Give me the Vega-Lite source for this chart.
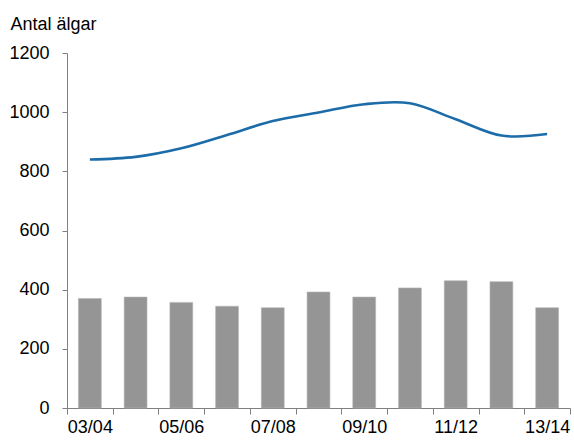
{
  "$schema": "https://vega.github.io/schema/vega-lite/v6.json",
  "autosize": {"type": "none"},
  "width": 503,
  "height": 355,
  "padding": {"left": 67, "top": 53, "right": 4, "bottom": 32},
  "background": "white",
  "config": {
    "view": {"stroke": null},
    "font": "Liberation Sans",
    "axis": {"grid": false, "labelFont": "Liberation Sans", "titleFont": "Liberation Sans", "labelColor": "#000000", "titleColor": "#000000", "domainColor": "#808080", "tickColor": "#808080", "labelFontSize": 18}
  },
  "data": {
    "values": [
      {"season": "03/04", "bars": 370, "line": 840},
      {"season": "04/05", "bars": 375, "line": 849},
      {"season": "05/06", "bars": 357, "line": 878},
      {"season": "06/07", "bars": 344, "line": 923},
      {"season": "07/08", "bars": 339, "line": 970},
      {"season": "08/09", "bars": 392, "line": 999},
      {"season": "09/10", "bars": 375, "line": 1027},
      {"season": "10/11", "bars": 406, "line": 1030},
      {"season": "11/12", "bars": 430, "line": 976},
      {"season": "12/13", "bars": 427, "line": 921},
      {"season": "13/14", "bars": 339, "line": 926}
    ]
  },
  "encoding": {
    "x": {
      "field": "season",
      "type": "ordinal",
      "sort": null,
      "scale": {"paddingInner": 0, "paddingOuter": 0},
      "axis": {
        "title": null,
        "labelAngle": 0,
        "tickBand": "extent",
        "tickSize": 6,
        "tickWidth": 1,
        "labelPadding": 4,
        "labelOverlap": false,
        "labelExpr": "indexof(['03/04','05/06','07/08','09/10','11/12','13/14'], datum.label) >= 0 ? datum.label : ''"
      }
    }
  },
  "layer": [
    {
      "mark": {"type": "bar", "color": "#959595", "stroke": "#b5b5b5", "strokeWidth": 0.6, "width": {"band": 0.5}},
      "encoding": {
        "y": {
          "field": "bars",
          "type": "quantitative",
          "scale": {"domain": [0, 1200], "nice": false},
          "axis": {
            "values": [0, 200, 400, 600, 800, 1000, 1200],
            "format": "d",
            "tickSize": 5,
            "labelPadding": 13,
            "title": "Antal älgar",
            "titleAngle": 0,
            "titleAlign": "left",
            "titleBaseline": "alphabetic",
            "titleFontWeight": "normal",
            "titleFontSize": 18,
            "titleX": -57,
            "titleY": -24
          }
        }
      }
    },
    {
      "mark": {"type": "line", "color": "#1b6ca8", "strokeWidth": 2.6, "interpolate": "cardinal"},
      "encoding": {
        "y": {"field": "line", "type": "quantitative"}
      }
    }
  ]
}
